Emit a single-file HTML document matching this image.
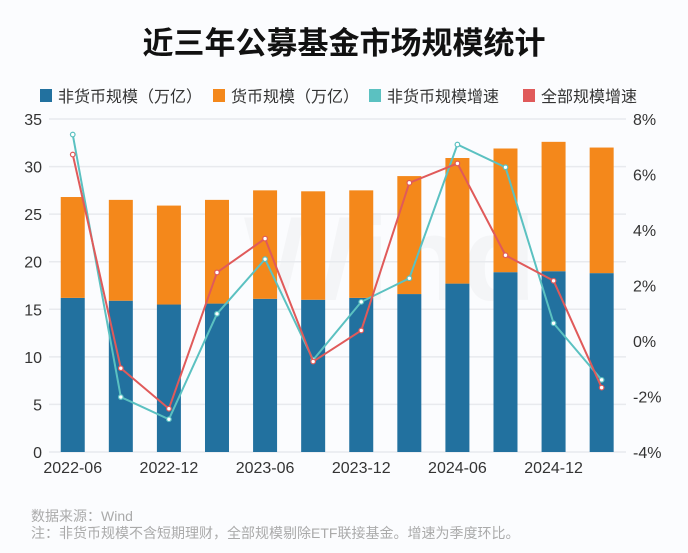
<!DOCTYPE html>
<html><head><meta charset="utf-8"><style>
body{margin:0;background:#fbfcfe;}
svg text{font-family:"Liberation Sans","Noto Sans CJK SC",sans-serif;}
</style></head><body>
<svg id="chart" width="688" height="548" viewBox="0 0 688 548" xmlns="http://www.w3.org/2000/svg">
<rect width="688" height="548" fill="#fbfcfe"/>
<text x="344" y="54" text-anchor="middle" font-size="31" font-weight="bold" fill="#111">近三年公募基金市场规模统计</text>
<g font-size="16" fill="#333">
<g><rect x="40" y="89" width="12" height="13" fill="#22719f"/><text x="58" y="102">非货币规模（万亿）</text></g>
<g><rect x="213" y="89" width="12" height="13" fill="#f4881b"/><text x="231" y="102">货币规模（万亿）</text></g>
<g><rect x="369" y="89" width="12" height="13" fill="#5bc1c1"/><text x="387" y="102">非货币规模增速</text></g>
<g><rect x="523" y="89" width="12" height="13" fill="#e05a5a"/><text x="541" y="102">全部规模增速</text></g>
</g>
<text x="390" y="300" text-anchor="middle" font-size="120" font-weight="bold" fill="#000" opacity="0.025">Wind</text>
<g id="grid"></g>
<g id="bars"></g>
<g id="lines"></g>
<g id="axes" font-size="16" fill="#333"></g>
<text x="31" y="521" font-size="14" fill="#aaa">数据来源：Wind</text>
<text x="31" y="538" font-size="14" fill="#aaa">注：非货币规模不含短期理财，全部规模剔除ETF联接基金。增速为季度环比。</text>
</svg>
<script>
const categories=["2022-06","2022-09","2022-12","2023-03","2023-06","2023-09","2023-12","2024-03","2024-06","2024-09","2024-12","2025-03"];
const nonMoney=[16.2,15.9,15.5,15.6,16.1,16.0,16.2,16.6,17.7,18.9,19.0,18.8];
const total=[26.8,26.5,25.9,26.5,27.5,27.4,27.5,29.0,30.9,31.9,32.6,32.0];
const nonMoneyGrowth=[7.44,-2.02,-2.82,0.98,2.95,-0.68,1.41,2.26,7.08,6.26,0.64,-1.40];
const totalGrowth=[6.72,-0.98,-2.44,2.47,3.69,-0.74,0.38,5.70,6.40,3.09,2.17,-1.68];
const leftTicks=[0,5,10,15,20,25,30,35];
const rightTicks=[-4,-2,0,2,4,6,8];
const xLabelIdx=[0,2,4,6,8,10];
const NS="http://www.w3.org/2000/svg";
const L=49,R=626,T=119,B=452;
const yL=v=>B-(v/35)*(B-T);
const yR=v=>B-((v+4)/12)*(B-T);
const step=(R-L)/12;
const xC=i=>L+step*(i+0.5)-0.3;
function mk(tag,attrs,parent){const e=document.createElementNS(NS,tag);for(const k in attrs)e.setAttribute(k,attrs[k]);parent.appendChild(e);return e;}
const grid=document.getElementById('grid'),bars=document.getElementById('bars'),lines=document.getElementById('lines'),axes=document.getElementById('axes');
leftTicks.forEach(t=>{
  const g=mk('line',{x1:L,x2:R,y1:yL(t),y2:yL(t),stroke:'#e8eaee','stroke-width':1.5},grid);
  
  
  const tx=mk('text',{x:42,y:yL(t)+6,'text-anchor':'end'},axes);tx.textContent=t;
  
  
});
rightTicks.forEach(t=>{
  const tx=mk('text',{x:633,y:yR(t)+6,'text-anchor':'start'},axes);tx.textContent=t+'%';
  
  
});
xLabelIdx.forEach(i=>{
  const tx=mk('text',{x:xC(i),y:473,'text-anchor':'middle'},axes);tx.textContent=categories[i];
  
  
});
const bw=24;
categories.forEach((c,i)=>{
  const b1=mk('rect',{x:xC(i)-bw/2,y:yL(nonMoney[i]),width:bw,height:B-yL(nonMoney[i]),fill:'#22719f'},bars);
  
  
  const b2=mk('rect',{x:xC(i)-bw/2,y:yL(total[i]),width:bw,height:yL(nonMoney[i])-yL(total[i]),fill:'#f4881b'},bars);
  
  
});
function series(arr,color,name){
  const p=mk('polyline',{points:arr.map((v,i)=>xC(i)+','+yR(v)).join(' '),fill:'none',stroke:color,'stroke-width':2},lines);
  
  
  arr.forEach((v,i)=>{
    const c=mk('circle',{cx:xC(i),cy:yR(v),r:2.3,fill:'#fff',stroke:color,'stroke-width':1.2},lines);
    
    
  });
}
series(nonMoneyGrowth,'#5bc1c1','non-money-growth');
series(totalGrowth,'#e05a5a','total-growth');
</script>
</body></html>
